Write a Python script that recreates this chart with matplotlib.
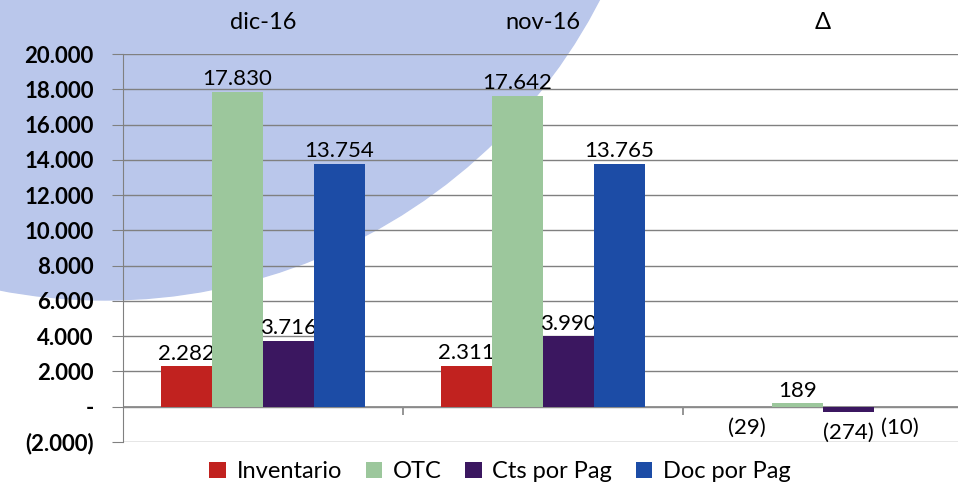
import matplotlib
matplotlib.use('Agg')
import matplotlib.pyplot as plt
import numpy as np
from matplotlib.patches import Ellipse

plt.rcParams['font.family'] = ['Lato', 'DejaVu Sans']

# datos
periodos = ['dic-16', 'nov-16', 'Δ']
series = ['Inventario', 'OTC', 'Cts por Pag', 'Doc por Pag']
inventario = [2282, 2311, -29]
otc = [17830, 17642, 189]
cts_pag = [3716, 3990, -274]
doc_pag = [13754, 13765, -10]
colores = ['#c1221f', '#9cc79c', '#3b1760', '#1c4ca6']
y_ticks = list(range(-2000, 20001, 2000))


def fmt_miles(v):
    if v < 0:
        return '({:,.0f})'.format(-v).replace(',', '.')
    if v == 0:
        return '-'
    return '{:,.0f}'.format(v).replace(',', '.')


fig = plt.figure(figsize=(9.58, 4.96), dpi=100)
fig.patch.set_facecolor('white')

# fondo azul claro (circulo decorativo)
fondo = Ellipse((105 / 958, 1 + 250 / 496), 1110 / 958, 1100 / 496,
                transform=fig.transFigure, color='#bac7eb', zorder=-5)
fig.add_artist(fondo)

ax = fig.add_axes([123 / 958, 54 / 496, 840 / 958, 388 / 496])
ax.set_facecolor('none')

x = np.arange(len(periodos))
w = 0.182
datos = [inventario, otc, cts_pag, doc_pag]
for i, (nombre, vals, c) in enumerate(zip(series, datos, colores)):
    bars = ax.bar(x + (i - 1.5) * w, vals, w, color=c, label=nombre, zorder=3)
    pos = [fmt_miles(v) if v >= 0 else '' for v in vals]
    neg = [fmt_miles(v) if v < 0 else '' for v in vals]
    ax.bar_label(bars, labels=pos, padding=2, fontsize=16)
    ax.bar_label(bars, labels=neg, padding=8, fontsize=16)

ax.set_xlim(-0.5, 2.5)
ax.set_ylim(-2000, 20000)
ax.set_yticks(y_ticks)
ax.set_yticklabels([fmt_miles(v) for v in y_ticks], fontsize=16, fontweight='bold')
ax.yaxis.grid(True, color='#808080', lw=1)
ax.set_axisbelow(True)
ax.tick_params(axis='y', length=8, color='#808080', pad=13)

ax.xaxis.tick_top()
ax.set_xticks(x)
ax.set_xticklabels(periodos, fontsize=17)
ax.tick_params(axis='x', length=0, pad=15)

for s in ['top', 'right', 'bottom']:
    ax.spines[s].set_visible(False)
ax.spines['left'].set_color('#808080')

# eje de categorias en cero
ax.axhline(0, color='#8c8c8c', lw=1.3, zorder=2)
ax.vlines(x[:-1] + 0.5, -450, 0, color='#8c8c8c', lw=1.3, zorder=2)

fig.legend(loc='lower center', bbox_to_anchor=(0.522, -0.015), ncol=4,
           frameon=False, handlelength=0.7, handleheight=0.7,
           columnspacing=1.0, handletextpad=0.45, fontsize=17)

fig.savefig('out.png', dpi=100)
